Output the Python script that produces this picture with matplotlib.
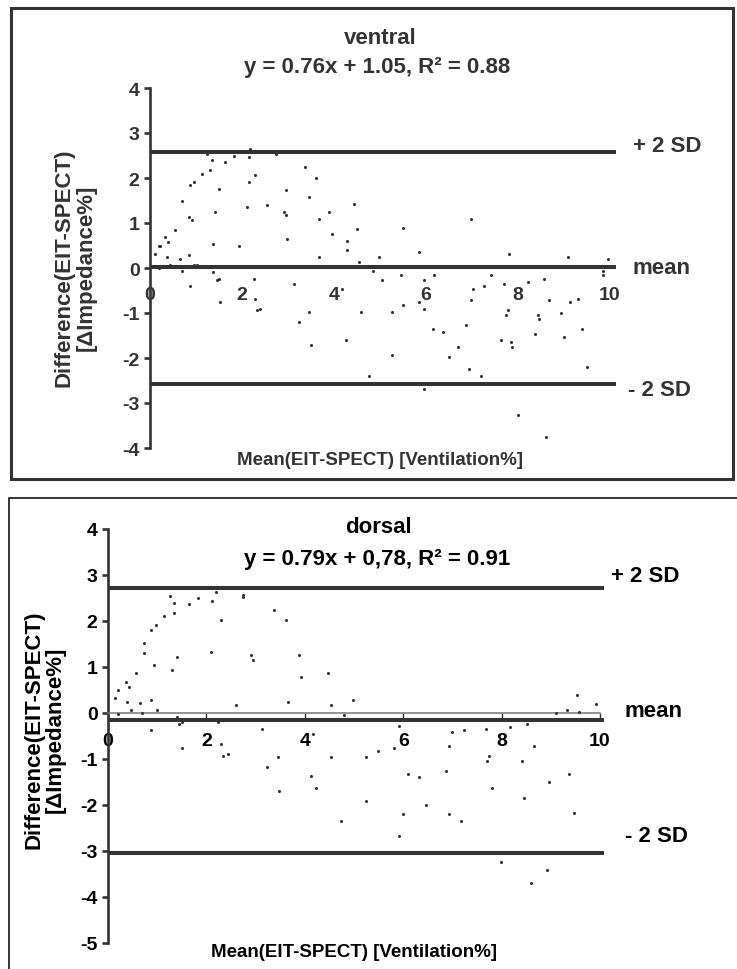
import numpy as np
import matplotlib
matplotlib.use("Agg")
import matplotlib.pyplot as plt
from matplotlib.patches import Rectangle

plt.rcParams['font.family'] = ['Liberation Sans', 'DejaVu Sans']
plt.rcParams['font.weight'] = 'bold'
plt.rcParams['axes.unicode_minus'] = False

# ventral (top) - Bland-Altman points
ventral_x = [0.11, 0.20, 0.22, 0.33, 0.40, 0.36, 0.20, 0.44, 0.55, 0.65, 0.69, 0.69, 0.84, 0.84, 0.91,
             0.87, 0.87, 0.95, 0.95, 1.02, 1.13, 1.24, 1.31, 1.35, 1.38, 1.38, 1.42, 1.45, 1.49, 1.49,
             1.53, 1.64, 1.82, 1.93, 2.11, 2.15, 2.18, 2.15, 2.25, 2.29, 2.29, 2.33, 2.40, 2.55, 2.73,
             2.91, 2.95, 2.95, 2.98, 3.13, 3.24, 3.38, 3.45, 3.45, 3.49, 3.60, 3.67, 3.67, 3.89, 3.96,
             4.18, 4.25, 4.29, 4.29, 4.44, 4.51, 4.55, 4.58, 4.76, 4.84, 4.98, 5.05, 5.27, 5.27, 5.45,
             5.49, 5.49, 5.85, 5.85, 5.96, 5.96, 5.96, 6.15, 6.18, 6.36, 6.51, 6.69, 6.87, 6.94, 6.98,
             6.98, 7.02, 7.20, 7.27, 7.41, 7.63, 7.70, 7.74, 7.78, 7.81, 7.85, 7.88, 7.99, 8.21, 8.36,
             8.43, 8.46, 8.57, 8.68, 8.93, 9.00, 9.08, 9.12, 9.30, 9.40, 9.51, 9.84, 9.84, 9.95, 8.60]
ventral_y = [0.32, 0.50, 0.50, 0.69, 0.58, 0.24, 0.01, 0.06, 0.84, 0.21, -0.07, 1.50, 0.28, 1.13, 1.06,
             -0.39, 1.84, 1.91, 0.06, 0.06, 2.10, 2.53, 2.17, 2.39, -0.09, 0.54, 1.24, -0.27, -0.24, 1.76,
             -0.76, 2.36, 2.50, 0.50, 1.36, 2.46, 2.64, 1.91, -0.24, 2.06, -0.68, -0.94, -0.90, 1.39, 2.53,
             1.24, 1.17, 1.73, 0.65, -0.35, -1.20, 2.24, 1.58, -0.98, -1.72, 2.01, 1.10, 0.24, 1.24, 0.76,
             -0.46, -1.61, 0.61, 0.39, 1.42, 0.87, 0.13, -0.98, -2.39, -0.07, 0.24, -0.27, -0.98, -1.94, -0.16,
             -0.83, 0.90, -0.76, 0.35, -0.27, -0.90, -2.68, -1.35, -0.16, -1.42, -1.98, -1.76, -1.27, -2.24, 1.09,
             -0.72, -0.46, -2.39, -0.39, -0.16, -1.61, -0.35, -1.05, -0.94, 0.31, -1.64, -1.76, -3.27, -0.31, -1.46,
             -1.05, -1.13, -0.24, -0.72, -1.01, -1.53, 0.24, -0.76, -0.68, -1.35, -2.20, -0.16, -0.07, 0.20, -3.75]

# dorsal (bottom)
dorsal_x = [0.14, 0.21, 0.20, 0.36, 0.43, 0.39, 0.46, 0.56, 0.66, 0.70, 0.73, 0.73, 0.87, 0.87, 0.87,
            0.93, 0.97, 1.00, 1.14, 1.25, 1.31, 1.34, 1.34, 1.41, 1.41, 1.44, 1.51, 1.51, 1.65, 1.82,
            2.09, 2.12, 2.20, 2.23, 2.30, 2.30, 2.33, 2.43, 2.60, 2.74, 2.74, 2.91, 2.94, 3.14, 3.24,
            3.38, 3.45, 3.48, 3.62, 3.65, 3.89, 3.92, 4.13, 4.16, 4.23, 4.47, 4.53, 4.53, 4.74, 4.80,
            4.97, 5.24, 5.24, 5.48, 5.82, 5.92, 5.92, 5.99, 6.09, 6.33, 6.46, 6.86, 6.93, 6.93, 7.00,
            7.17, 7.24, 7.68, 7.71, 7.75, 7.81, 7.98, 8.18, 8.42, 8.45, 8.52, 8.59, 8.66, 8.93, 8.96,
            9.10, 9.33, 9.37, 9.47, 9.54, 9.57, 9.77, 9.91]
dorsal_y = [0.32, 0.49, -0.03, 0.68, 0.57, 0.25, 0.07, 0.86, 0.21, -0.01, 1.30, 1.52, 0.28, 1.81, -0.38,
            1.04, 1.92, 0.07, 2.10, 2.54, 0.93, 2.17, 2.39, 1.22, -0.09, -0.24, -0.20, -0.75, 2.36, 2.50,
            1.33, 2.43, 2.64, -0.20, 2.03, -0.67, -0.93, -0.89, 0.17, 2.57, 2.53, 1.26, 1.15, -0.35, -1.18,
            2.25, -0.96, -1.69, 2.03, 0.25, 1.26, 0.79, -1.36, -0.46, -1.62, 0.86, 0.17, -0.96, -2.34, -0.05,
            0.28, -0.96, -1.91, -0.82, -0.75, -0.28, -2.68, -2.20, -1.33, -1.40, -1.99, -1.25, -0.71, -2.20, -0.42,
            -2.35, -0.38, -0.35, -1.04, -0.93, -1.62, -3.23, -0.31, -1.04, -1.84, -0.24, -3.70, -0.71, -3.41, -1.51,
            -0.01, 0.06, -1.33, -2.17, 0.39, 0.02, -0.12, 0.20]

# limits of agreement: +2 SD, mean, -2 SD
ventral_lines = [2.58, 0.02, -2.58]
dorsal_lines = [2.72, -0.15, -3.04]
line_labels = ["+ 2 SD", "mean", "- 2 SD"]

x_ticks = [0, 2, 4, 6, 8, 10]
ventral_yticks = [-4, -3, -2, -1, 0, 1, 2, 3, 4]
dorsal_yticks = [-5, -4, -3, -2, -1, 0, 1, 2, 3, 4]

W, H = 737, 970
DARK = '#333333'


def fx(px):
    return px / W


def fy(py):
    return 1 - py / H


fig = plt.figure(figsize=(W / 100, H / 100), dpi=100)

# outer frames
fig.patches.append(Rectangle((fx(11), fy(480)), (733 - 11) / W, (480 - 9) / H,
                             transform=fig.transFigure, fill=False, lw=2.2, ec=DARK))
fig.patches.append(Rectangle((fx(9), fy(1010)), (780 - 9) / W, (1010 - 499) / H,
                             transform=fig.transFigure, fill=False, lw=1.1, ec='black'))


def panel(rect, xs, ys, lines, yticks, ylim, line_end, top):
    ax = fig.add_axes(rect)
    ax.set_xlim(0, 10.5)
    ax.set_ylim(*ylim)
    ax.patch.set_visible(False)
    for s in ['top', 'right']:
        ax.spines[s].set_visible(False)
    ax.spines['left'].set_linewidth(1.9)
    ax.spines['left'].set_color(DARK)
    ax.spines['bottom'].set_position(('data', 0))
    ax.spines['bottom'].set_bounds(0, 10)
    if top:
        ax.spines['bottom'].set_visible(False)
        ax.tick_params(axis='x', length=0, pad=13)
    else:
        ax.spines['bottom'].set_color('#777777')
        ax.spines['bottom'].set_linewidth(1.1)
        ax.tick_params(axis='x', length=4.5, width=1.0, color=DARK, pad=9)
    ax.set_xticks(x_ticks)
    ax.set_yticks(yticks)
    ax.tick_params(axis='x', labelsize=14, labelcolor=DARK if top else 'black')
    ax.tick_params(axis='y', length=4.5, width=1.9, color=DARK, labelsize=14, pad=3,
                   labelcolor=DARK if top else 'black')
    for lab in ax.get_xticklabels() + ax.get_yticklabels():
        lab.set_fontweight('bold')
    ax.hlines(lines, 0, line_end, colors=DARK, lw=2.9, zorder=2)
    ax.scatter(xs, ys, s=5, color=DARK, linewidths=0, zorder=3, clip_on=False)
    return ax


ax1 = panel([fx(150), fy(449), 483 / W, 360 / H], ventral_x, ventral_y, ventral_lines,
            ventral_yticks, (-4, 4), 10.13, True)
ax2 = panel([fx(108), fy(944), 10.5 * 49.2 / W, 414 / H], dorsal_x, dorsal_y, dorsal_lines,
            dorsal_yticks, (-5, 4), 10.08, False)

# top panel texts
fig.text(fx(380), fy(38), "ventral", ha='center', va='center', fontsize=16, color=DARK)
fig.text(fx(377), fy(68), "y = 0.76x + 1.05, R² = 0.88", ha='center', va='center', fontsize=16, color=DARK)
for lab, px, py in zip(line_labels, [633, 633, 628], [146, 269, 391]):
    fig.text(fx(px), fy(py), lab, ha='left', va='center', fontsize=16, color=DARK)
fig.text(fx(380), fy(461), "Mean(EIT-SPECT) [Ventilation%]", ha='center', va='center',
         fontsize=13.5, color=DARK)
fig.text(fx(75), fy(268), "Difference(EIT-SPECT)\n[ΔImpedance%]", ha='center', va='center',
         rotation=90, fontsize=16, color=DARK, linespacing=1.1, multialignment='center')

# bottom panel texts
fig.text(fx(378), fy(528), "dorsal", ha='center', va='center', fontsize=16, color='black')
fig.text(fx(377), fy(560), "y = 0.79x + 0,78, R² = 0.91", ha='center', va='center', fontsize=16,
         color='black')
for lab, px, py in zip(line_labels, [611, 625, 625], [577, 712, 837]):
    fig.text(fx(px), fy(py), lab, ha='left', va='center', fontsize=16, color='black')
fig.text(fx(354), fy(953), "Mean(EIT-SPECT) [Ventilation%]", ha='center', va='center',
         fontsize=13.5, color='black')
fig.text(fx(45), fy(730), "Difference(EIT-SPECT)\n[ΔImpedance%]", ha='center', va='center',
         rotation=90, fontsize=16, color='black', linespacing=1.0, multialignment='center')

fig.savefig("out.png", dpi=100)
